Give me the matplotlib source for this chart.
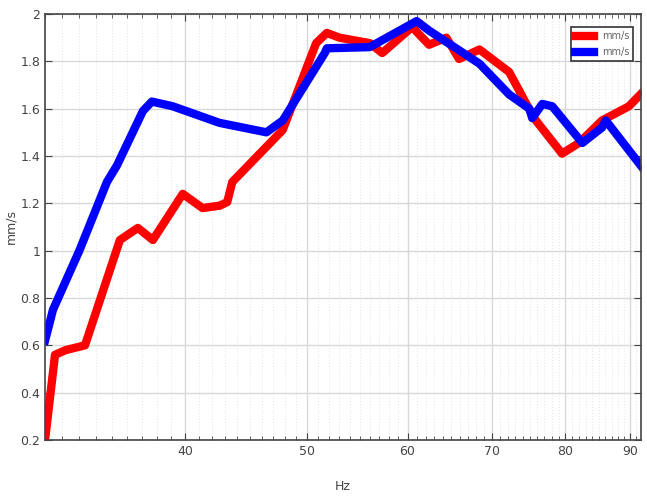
import matplotlib
matplotlib.use('Agg')
import matplotlib.pyplot as plt
import matplotlib.ticker as ticker

# red series (Hz, mm/s)
hz_red = [31.0, 31.57, 32.2, 33.34, 35.53, 36.71, 37.73, 39.84, 41.3, 42.6, 43.2, 43.6,
          47.8, 50.8, 51.8, 53.0, 56.0, 57.3, 60.5, 62.4, 64.4, 65.9, 68.4, 72.2,
          74.5, 75.8, 79.5, 82.0, 85.5, 89.8, 91.9]
v_red = [0.2, 0.56, 0.58, 0.6, 1.045, 1.096, 1.045, 1.24, 1.18, 1.19, 1.205, 1.29,
         1.51, 1.877, 1.92, 1.90, 1.877, 1.835, 1.945, 1.87, 1.90, 1.81, 1.85, 1.755,
         1.62, 1.55, 1.41, 1.455, 1.55, 1.61, 1.665]

# blue series
hz_blue = [31.0, 31.28, 31.45, 33.0, 34.7, 35.34, 37.05, 37.66, 39.12, 42.6, 46.4, 47.8,
           51.6, 51.8, 56.0, 61.0, 62.4, 68.4, 72.2, 74.9, 75.3, 76.7, 78.1, 82.5,
           85.5, 86.1, 91.9]
v_blue = [0.62, 0.70, 0.75, 1.0, 1.29, 1.36, 1.59, 1.63, 1.61, 1.54, 1.50, 1.55,
          1.835, 1.855, 1.86, 1.97, 1.93, 1.79, 1.66, 1.60, 1.56, 1.62, 1.61, 1.455,
          1.52, 1.55, 1.355]

xticks = [40, 50, 60, 70, 80, 90]
yticks = [0.2, 0.4, 0.6, 0.8, 1, 1.2, 1.4, 1.6, 1.8, 2]
ytick_labels = ['0.2', '0.4', '0.6', '0.8', '1', '1.2', '1.4', '1.6', '1.8', '2']

fig = plt.figure(figsize=(6.47, 4.98), dpi=100)
ax = fig.add_axes([0.0696, 0.1165, 0.9211, 0.8554])

ax.plot(hz_red, v_red, '-', color='#ff0000', lw=6, marker='.', ms=6, label='mm/s')
ax.plot(hz_blue, v_blue, '-', color='#0000ff', lw=6, marker='.', ms=6, label='mm/s')

ax.set_xscale('log')
ax.set_xlim(31, 91.8)
ax.set_ylim(0.2, 2)
ax.xaxis.set_major_locator(ticker.FixedLocator(xticks))
ax.xaxis.set_major_formatter(ticker.FixedFormatter([str(t) for t in xticks]))
ax.xaxis.set_minor_locator(ticker.FixedLocator(list(range(31, 92))))
ax.xaxis.set_minor_formatter(ticker.NullFormatter())
ax.set_yticks(yticks)
ax.set_yticklabels(ytick_labels)

ax.grid(which='major', color='#d8d8d8', lw=1, ls='-')
ax.grid(which='minor', axis='x', color='#e8e8e8', lw=0.8, ls=':')
ax.set_axisbelow(True)

ax.tick_params(which='both', direction='in', top=True, right=True,
               labelsize=9, labelcolor='#444444', color='#444444')
ax.tick_params(which='major', length=5)
ax.tick_params(which='minor', length=3)
for s in ax.spines.values():
    s.set_color('#444444')
    s.set_linewidth(1.2)

ax.set_xlabel('Hz', fontsize=9, color='#444444', labelpad=16)
ax.set_ylabel('mm/s', fontsize=9, color='#444444', labelpad=2)

leg = ax.legend(loc='upper right', fontsize=7, handlelength=2, borderpad=0.4,
                labelspacing=0.6, fancybox=False, framealpha=1,
                bbox_to_anchor=(0.995, 0.98))
leg.get_frame().set_edgecolor('#333333')
leg.get_frame().set_linewidth(1.2)
for t in leg.get_texts():
    t.set_color('#666666')

fig.savefig('out.png', dpi=100)
